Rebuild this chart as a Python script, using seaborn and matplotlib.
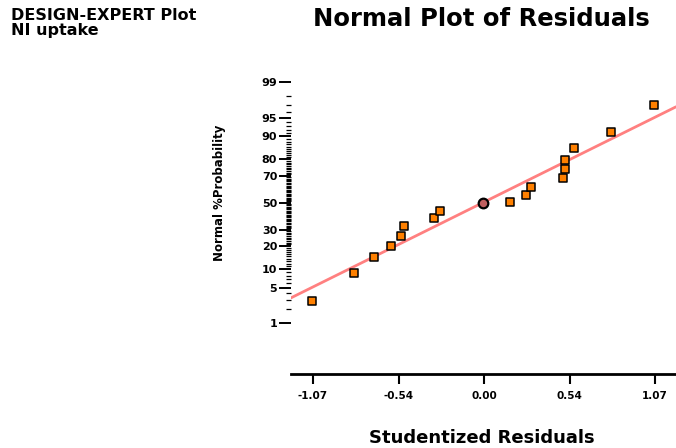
import numpy as np
import pandas as pd
import matplotlib
matplotlib.use("Agg")
import matplotlib.pyplot as plt
import seaborn as sns
from statistics import NormalDist

# ---- data ----
residuals = [-1.078, -0.812, -0.688, -0.580, -0.521, -0.499, -0.311, -0.275,
             -0.004, 0.165, 0.263, 0.296, 0.492, 0.507, 0.507, 0.565, 0.797, 1.066]
probability = [2.9, 8.8, 14.6, 20.3, 26.2, 32.4, 38.2, 43.9,
               50.0, 50.3, 55.7, 61.7, 68.1, 74.1, 79.5, 85.3, 91.3, 97.1]
point_kind = ["run"] * 8 + ["center"] + ["run"] * 9

fit_intercept = 0.013   # in normal-score units
fit_slope = 1.531       # normal score per studentized residual

x_ticks = [-1.07, -0.535, 0.0, 0.535, 1.07]
x_tick_labels = ["-1.07", "-0.54", "0.00", "0.54", "1.07"]
y_major = [1, 5, 10, 20, 30, 50, 70, 80, 90, 95, 99]
y_minor = [2, 3, 4] + [v for v in range(6, 95) if v not in y_major] + [96, 97, 98]

# ---- probability scale ----
_nd = NormalDist()
_inv = np.vectorize(lambda p: _nd.inv_cdf(min(max(p / 100.0, 1e-9), 1 - 1e-9)),
                    otypes=[float])
_cdf = np.vectorize(lambda z: _nd.cdf(z) * 100.0, otypes=[float])


def fwd(p):
    return _inv(np.asarray(p, dtype=float))


def inv(z):
    return _cdf(np.asarray(z, dtype=float))


sns.set_theme(style="white")
plt.rcParams["font.family"] = ["DejaVu Sans"]
plt.rcParams["text.color"] = "black"
plt.rcParams["xtick.color"] = "black"
plt.rcParams["ytick.color"] = "black"

fig = plt.figure(figsize=(6.76, 4.48), dpi=100)
ax = fig.add_axes([291 / 676, 74 / 448, 1 - 291 / 676, (416.6 - 74) / 448])
ax.set_yscale("function", functions=(fwd, inv))

xlim = (-1.208, 1.201)
ax.set_xlim(*xlim)
ax.set_ylim(0.0472, 99.953)

df = pd.DataFrame({"res": residuals, "prob": probability, "kind": point_kind})

# fitted normal line
line_x = np.array(xlim)
line_p = inv(fit_intercept + fit_slope * line_x)
sns.lineplot(x=line_x, y=line_p, ax=ax, color="#FF8080", linewidth=2.0,
             zorder=2, legend=False)

sns.scatterplot(data=df[df.kind == "run"], x="res", y="prob", ax=ax,
                marker="s", color="#FF8000", edgecolor="black", linewidth=1.1,
                s=32, zorder=3, legend=False)
sns.scatterplot(data=df[df.kind == "center"], x="res", y="prob", ax=ax,
                marker="o", color="#C06060", edgecolor="black", linewidth=1.6,
                s=48, zorder=4, legend=False)

ax.set_xlim(*xlim)
ax.set_ylim(0.0472, 99.953)

# axes styling
for side in ["top", "right", "left"]:
    ax.spines[side].set_visible(False)
ax.spines["bottom"].set_color("black")
ax.spines["bottom"].set_linewidth(2.0)

ax.set_xticks(x_ticks)
ax.set_xticklabels(x_tick_labels)
ax.set_yticks(y_major)
ax.set_yticklabels([str(v) for v in y_major])
ax.set_yticks(y_minor, minor=True)
ax.tick_params(axis="x", which="major", direction="out", length=7.2, width=1.5,
               color="black", labelcolor="black", pad=5, labelsize=7.5, bottom=True)
ax.tick_params(axis="y", which="major", direction="out", length=8.4, width=1.4,
               color="black", labelcolor="black", pad=1.5, labelsize=8, left=True)
ax.tick_params(axis="y", which="minor", direction="out", length=3.6, width=0.9,
               color="black", left=True)
for lab in ax.get_xticklabels() + ax.get_yticklabels():
    lab.set_fontweight("bold")
ax.set_xlabel("")
ax.set_ylabel("")
ax.grid(False)

# texts
fig.text(11 / 676, 1 - 16 / 448, "DESIGN-EXPERT Plot", ha="left", va="center",
         fontsize=11.5, fontweight="bold", color="black")
fig.text(11 / 676, 1 - 31 / 448, "NI uptake", ha="left", va="center",
         fontsize=11.5, fontweight="bold", color="black")
fig.text(481.7 / 676, 1 - 19.3 / 448, "Normal Plot of Residuals", ha="center",
         va="center", fontsize=17.5, fontweight="bold", color="black")
fig.text(481.5 / 676, 1 - 438 / 448, "Studentized Residuals", ha="center",
         va="center", fontsize=13, fontweight="bold", color="black")
fig.text(219 / 676, 1 - 193 / 448, "Normal %Probability", ha="center",
         va="center", rotation=90, fontsize=8.5, fontweight="bold", color="black")

fig.savefig("out.png", dpi=100)
